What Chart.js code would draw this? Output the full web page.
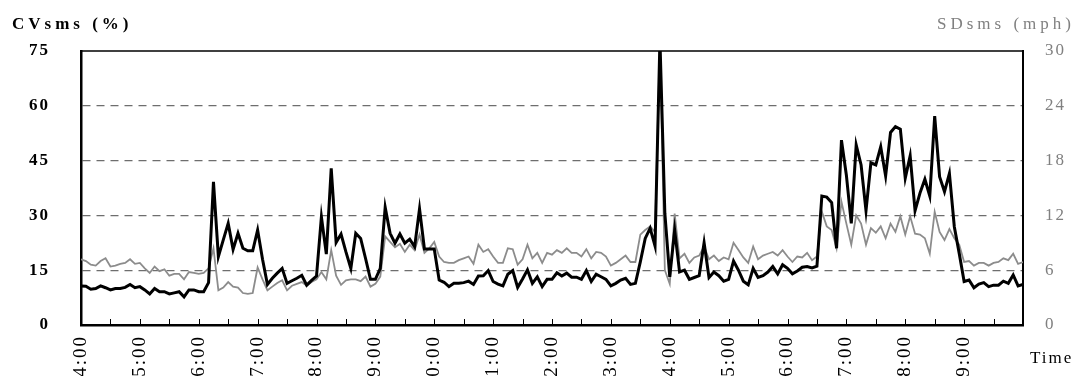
<!DOCTYPE html>
<html>
<head>
<meta charset="utf-8">
<script src="https://cdn.jsdelivr.net/npm/chart.js@4/dist/chart.umd.min.js"></script>
<style>
  html, body { margin: 0; padding: 0; background: #fff; }
  canvas { display: block; }
</style>
</head>
<body>
<canvas id="cvChart" width="1076" height="376"></canvas>
<script>
// 5-minute samples from 4:00 to 20:00
const startMinute = 240;
const stepMinutes = 5;

const hourLabels = ['4:00', '5:00', '6:00', '7:00', '8:00', '9:00', '10:00', '11:00',
    '12:00', '13:00', '14:00', '15:00', '16:00', '17:00', '18:00', '19:00'];

// CVsms (%) - left axis, black
const cvsms = [
    10.7, 10.6, 9.8, 10.0, 10.7, 10.2, 9.6, 10.0, 10.0, 10.3,
    11.1, 10.2, 10.5, 9.6, 8.5, 10.0, 9.1, 9.1, 8.5, 8.8,
    9.1, 7.7, 9.6, 9.6, 9.1, 9.1, 11.6, 39.2, 18.7, 23.3,
    27.8, 20.7, 25.1, 21.0, 20.3, 20.3, 26.0, 18.0, 11.1, 12.8,
    14.2, 15.5, 11.4, 12.1, 12.8, 13.6, 10.9, 12.2, 13.4, 29.6,
    19.4, 42.9, 22.6, 24.9, 20.0, 15.5, 25.1, 23.7, 18.2, 12.5,
    12.5, 15.5, 32.2, 25.1, 22.4, 24.9, 22.4, 23.5, 21.4, 31.8,
    20.8, 20.8, 20.8, 12.3, 11.7, 10.5, 11.4, 11.4, 11.6, 12.0,
    11.1, 13.4, 13.5, 14.9, 11.9, 11.2, 10.7, 13.9, 14.9, 10.3,
    12.6, 15.1, 11.4, 13.2, 10.5, 12.5, 12.5, 14.3, 13.4, 14.2,
    13.1, 13.1, 12.5, 14.9, 11.9, 13.9, 13.2, 12.5, 10.7, 11.4,
    12.3, 12.8, 11.1, 11.4, 17.3, 23.7, 26.5, 21.6, 78, 30.6,
    13.2, 26.0, 14.5, 15.0, 12.5, 13.0, 13.5, 22.5, 13.0, 14.5,
    13.5, 12.0, 12.5, 17.5, 15.0, 12.0, 11.0, 15.5, 13.0, 13.5,
    14.5, 16.0, 14.0, 16.5, 15.5, 14.0, 14.8, 15.8, 16.0, 15.6,
    16.1, 35.3, 35.0, 33.5, 21.0, 50.6, 41.0, 27.8, 49.3, 43.8,
    31.3, 44.4, 43.8, 48.8, 40.8, 52.7, 54.3, 53.6, 40.2, 46.3,
    31.3, 36.1, 39.9, 35.3, 57.2, 40.6, 36.5, 41.5, 26.9, 19.6,
    11.9, 12.3, 10.2, 11.2, 11.6, 10.5, 10.9, 10.9, 12.0, 11.4,
    13.7, 10.7, 11.1
];

// SDsms (mph) - right axis, grey
const sdsms = [
    7.2, 7.0, 6.6, 6.5, 7.0, 7.3, 6.4, 6.5, 6.7, 6.8,
    7.2, 6.7, 6.8, 6.2, 5.7, 6.4, 5.9, 6.1, 5.4, 5.6,
    5.6, 5.0, 5.8, 5.7, 5.6, 5.7, 6.2, 8.4, 3.8, 4.1,
    4.7, 4.2, 4.1, 3.5, 3.4, 3.5, 6.3, 5.0, 3.8, 4.2,
    4.6, 4.9, 3.8, 4.3, 4.5, 4.7, 4.3, 4.7, 5.0, 5.8,
    5.0, 8.2, 5.4, 4.4, 4.9, 5.0, 5.0, 4.8, 5.3, 4.2,
    4.5, 5.3, 9.7, 9.1, 8.5, 8.9, 8.0, 8.8, 8.2, 9.9,
    7.9, 8.4, 9.1, 7.5, 6.9, 6.8, 6.8, 7.1, 7.3, 7.5,
    6.7, 8.8, 8.0, 8.3, 7.5, 6.8, 6.8, 8.4, 8.3, 6.6,
    7.2, 8.8, 7.3, 7.9, 6.8, 7.9, 7.7, 8.2, 7.9, 8.4,
    7.9, 7.9, 7.5, 8.3, 7.3, 8.0, 7.9, 7.5, 6.5, 6.8,
    7.2, 7.6, 6.9, 6.9, 9.9, 10.4, 10.8, 10.2, 31, 6.0,
    4.5, 12.2, 7.3, 7.8, 6.8, 7.4, 7.6, 8.6, 7.2, 7.6,
    7.0, 7.4, 7.2, 9.0, 8.2, 7.4, 6.8, 8.6, 7.2, 7.6,
    7.8, 8.0, 7.6, 8.2, 7.5, 6.9, 7.5, 7.4, 7.9, 7.1,
    7.5, 12.4, 10.8, 10.4, 8.4, 13.5, 11.1, 8.8, 12.0, 11.1,
    8.8, 10.6, 10.1, 10.8, 9.5, 11.1, 10.2, 11.9, 9.9, 11.9,
    10.0, 9.9, 9.5, 7.8, 12.4, 10.2, 9.3, 10.5, 9.5, 8.8,
    6.9, 7.0, 6.5, 6.8, 6.8, 6.5, 6.8, 6.9, 7.3, 7.1,
    7.8, 6.7, 6.9
];

const toPoints = arr => arr.map((v, i) => ({ x: startMinute + i * stepMinutes, y: v }));

const serif = "'Liberation Serif', 'Times New Roman', serif";

// text outside the plot + top frame line + inner tick marks
const decorations = {
    id: 'decorations',
    beforeDraw(chart) {
        chart.ctx.letterSpacing = '2px';
    },
    afterDraw(chart) {
        const ctx = chart.ctx;
        const area = chart.chartArea;
        const xs = chart.scales.x;
        ctx.save();
        ctx.strokeStyle = '#000';
        ctx.lineWidth = 1.5;
        ctx.beginPath();
        ctx.moveTo(area.left, area.top);
        ctx.lineTo(area.right, area.top);
        ctx.stroke();

        ctx.lineWidth = 1;
        xs.ticks.forEach(t => {
            const px = Math.round(xs.getPixelForValue(t.value)) + 0.5;
            ctx.beginPath();
            ctx.moveTo(px, area.bottom);
            ctx.lineTo(px, area.bottom - 6);
            ctx.stroke();
        });

        ctx.textBaseline = 'alphabetic';
        ctx.letterSpacing = '4px';
        ctx.fillStyle = '#000';
        ctx.font = 'bold 17px ' + serif;
        ctx.fillText('CVsms (%)', 12, 29);

        ctx.fillStyle = '#808080';
        ctx.font = '17px ' + serif;
        ctx.fillText('SDsms (mph)', 937, 29);

        ctx.fillStyle = '#000';
        ctx.font = '17px ' + serif;
        ctx.letterSpacing = '2px';
        ctx.fillText('Time', 1030, 363);
        ctx.restore();
    }
};

new Chart(document.getElementById('cvChart'), {
    type: 'line',
    data: {
        datasets: [{
            label: 'CVsms (%)',
            data: toPoints(cvsms),
            yAxisID: 'y',
            borderColor: '#000',
            borderWidth: 3,
            pointRadius: 0,
            tension: 0,
            clip: 0
        }, {
            label: 'SDsms (mph)',
            data: toPoints(sdsms),
            yAxisID: 'y2',
            borderColor: '#8c8c8c',
            borderWidth: 1.8,
            pointRadius: 0,
            tension: 0,
            clip: 0
        }]
    },
    options: {
        responsive: false,
        animation: false,
        layout: { padding: { top: 51, left: 0, right: 0, bottom: 0 } },
        plugins: {
            legend: { display: false },
            tooltip: { enabled: false }
        },
        scales: {
            x: {
                type: 'linear',
                min: 240,
                max: 1200,
                grid: { display: false, drawTicks: false },
                border: { display: true, color: '#000', width: 2.5 },
                ticks: {
                    stepSize: 30,
                    maxTicksLimit: 40,
                    autoSkip: false,
                    minRotation: 90,
                    maxRotation: 90,
                    padding: 10,
                    color: '#000',
                    font: { family: serif, size: 19 },
                    callback: v => (v % 60 === 0 ? (hourLabels[(v - startMinute) / 60] || '') : '')
                },
                afterFit: s => { s.height = 51; }
            },
            y: {
                position: 'left',
                min: 0,
                max: 75,
                grid: {
                    drawTicks: false,
                    lineWidth: 1.3,
                    color: c => (c.tick && c.tick.value > 0 && c.tick.value < 75 ? '#6e6e6e' : 'transparent')
                },
                border: { display: true, color: '#000', width: 2.5, dash: [8, 6] },
                ticks: {
                    stepSize: 15,
                    padding: 31,
                    color: '#000',
                    font: { family: serif, size: 17, weight: 'bold' }
                },
                afterFit: s => { s.width = 81; }
            },
            y2: {
                position: 'right',
                min: 0,
                max: 30,
                grid: { display: false, drawTicks: false },
                border: { display: true, color: '#000', width: 2 },
                ticks: {
                    stepSize: 6,
                    padding: 22,
                    color: '#808080',
                    font: { family: serif, size: 17 }
                },
                afterFit: s => { s.width = 53; }
            }
        }
    },
    plugins: [decorations]
});
</script>
</body>
</html>
